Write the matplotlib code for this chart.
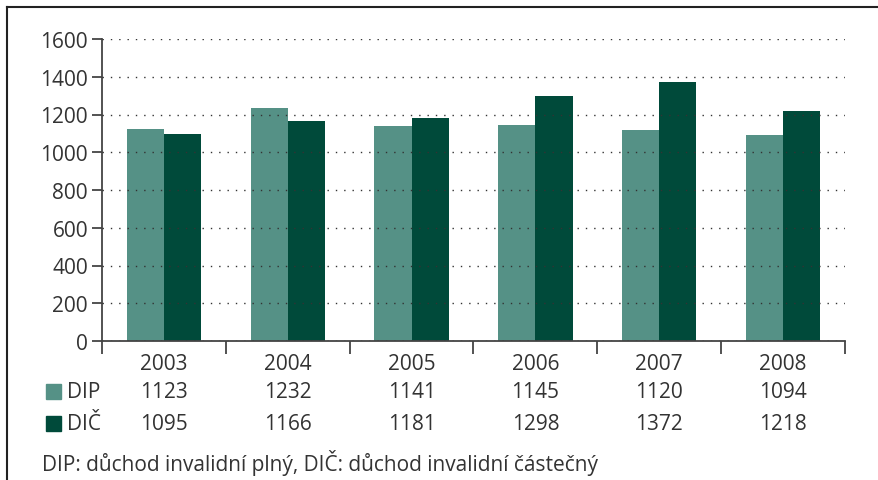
import numpy as np
import matplotlib
matplotlib.use('Agg')
import matplotlib.pyplot as plt
from matplotlib.patches import Rectangle
from matplotlib.lines import Line2D

years = ['2003', '2004', '2005', '2006', '2007', '2008']
dip = [1123, 1232, 1141, 1145, 1120, 1094]
dic = [1095, 1166, 1181, 1298, 1372, 1218]
series_names = ['DIP', 'DIČ']
colors = ['#559186', '#004a3a']
note = 'DIP: důchod invalidní plný, DIČ: důchod invalidní částečný'

plt.rcParams['font.family'] = ['Open Sans', 'DejaVu Sans']
txt = '#333333'
fs = 15

W, H = 879, 481
fig = plt.figure(figsize=(W / 100, H / 100), dpi=100)
ax = fig.add_axes([102 / W, 1 - 342 / H, 743 / W, 302 / H])

x = np.arange(len(years))
bw = 0.3
ax.bar(x - bw / 2, dip, bw, color=colors[0], zorder=2)
ax.bar(x + bw / 2, dic, bw, color=colors[1], zorder=2)

ax.set_xlim(-0.5, len(years) - 0.5)
ax.set_ylim(0, 1600)
ax.set_yticks(range(0, 1601, 200))
ax.tick_params(axis='y', labelsize=fs, colors='#444444', labelcolor=txt,
               length=7, width=1.3, pad=3)
ax.set_xticks(np.arange(-0.5, len(years), 1))
ax.set_xticklabels([])
ax.tick_params(axis='x', length=9, width=1.3, colors='#444444')
for s in ['top', 'right']:
    ax.spines[s].set_visible(False)
for s in ['left', 'bottom']:
    ax.spines[s].set_color('#444444')
    ax.spines[s].set_linewidth(1.3)
ax.yaxis.grid(True, linestyle=(0, (1, 5)), color='#333333', linewidth=1.0, zorder=3)
ax.set_axisbelow(False)
for gl in ax.get_ygridlines():
    gl.set_zorder(3)

# data table under the axis
row_y = [364, 393, 425]
def fy(py):
    return 1 - py / H
for i, yr in enumerate(years):
    xf = fig.transFigure.inverted().transform(ax.transData.transform((x[i], 0)))[0]
    fig.text(xf, fy(row_y[0]), yr, ha='center', va='center', fontsize=fs, color=txt)
    fig.text(xf, fy(row_y[1]), str(dip[i]), ha='center', va='center', fontsize=fs, color=txt)
    fig.text(xf, fy(row_y[2]), str(dic[i]), ha='center', va='center', fontsize=fs, color=txt)

for k, name in enumerate(series_names):
    py = row_y[k + 1]
    fig.patches.append(Rectangle((46 / W, fy(py + 7)), 15 / W, 15 / H,
                                 transform=fig.transFigure, color=colors[k]))
    fig.text(67 / W, fy(py), name, ha='left', va='center', fontsize=fs, color=txt)

fig.text(42 / W, fy(463), note, ha='left', va='center', fontsize=fs, color=txt)

# outer frame (top and left)
fig.lines.append(Line2D([7 / W, 1], [fy(8), fy(8)], transform=fig.transFigure,
                        color='#222222', linewidth=1.5))
fig.lines.append(Line2D([7 / W, 7 / W], [0, fy(8)], transform=fig.transFigure,
                        color='#222222', linewidth=1.5))

fig.savefig('out.png', dpi=100)
